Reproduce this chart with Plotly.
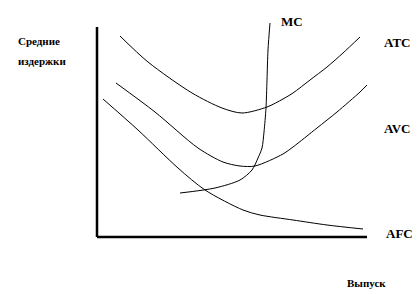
import plotly.graph_objects as go

# Curve data (output q, average cost c)
atc_q = [23, 51, 95, 125, 145, 170, 186, 196, 213, 230, 246, 263]
atc_c = [201, 175, 144, 129, 124, 130, 138, 144, 157, 170, 184, 200]

avc_q = [19, 58, 101, 126, 143, 158, 186, 196, 220, 240, 263, 270]
avc_c = [154, 125, 89, 75, 71, 71, 83, 90, 109, 125, 145, 152]

afc_q = [6, 41, 81, 108, 146, 163, 196, 230, 266]
afc_c = [138, 107, 69, 47, 27, 22, 17, 12, 8]

mc_q = [83, 118, 143, 155, 161, 165, 167, 169, 170, 171, 173]
mc_c = [44, 49, 57, 67, 79, 89, 105, 129, 157, 187, 214]

# axis extents
x_axis_q = [0, 270]
x_axis_c = [0, 0]
y_axis_q = [0, 0]
y_axis_c = [0, 210]

curve_labels = ["MC", "ATC", "AVC", "AFC"]
y_title = ["Средние", "издержки"]
x_title = "Выпуск"

fig = go.Figure()
line_style = dict(color="black", width=1, shape="spline", smoothing=0.8)
for q, c in [(atc_q, atc_c), (avc_q, avc_c), (afc_q, afc_c), (mc_q, mc_c)]:
    fig.add_trace(go.Scatter(x=q, y=c, mode="lines", line=line_style,
                             hoverinfo="skip", showlegend=False))

fig.add_trace(go.Scatter(x=x_axis_q, y=x_axis_c, mode="lines",
                         line=dict(color="black", width=2.5), showlegend=False))
fig.add_trace(go.Scatter(x=y_axis_q, y=y_axis_c, mode="lines",
                         line=dict(color="black", width=2.5), showlegend=False))

lab_font = dict(family="Liberation Serif", size=13, color="black")
label_pos = {"MC": (195, 216), "ATC": (300, 195), "AVC": (300, 109), "AFC": (302, 4)}
for name in curve_labels:
    x, y = label_pos[name]
    fig.add_annotation(x=x, y=y, text="<b>%s</b>" % name, showarrow=False,
                       font=lab_font, xanchor="center", yanchor="middle")

small_font = dict(family="Liberation Serif", size=11, color="black")
fig.add_annotation(x=269, y=-46, text="<b>%s</b>" % x_title, showarrow=False,
                   font=small_font, xanchor="center", yanchor="middle")
for i, t in enumerate(y_title):
    fig.add_annotation(x=-81, y=196 - 20 * i, text="<b>%s</b>" % t, showarrow=False,
                       font=small_font, xanchor="left", yanchor="middle")

fig.update_layout(
    width=419, height=294,
    margin=dict(l=0, r=0, t=0, b=0),
    plot_bgcolor="white", paper_bgcolor="white",
    xaxis=dict(range=[-97, 322], visible=False),
    yaxis=dict(range=[-57, 237], visible=False),
)

fig.write_html("out.html")
